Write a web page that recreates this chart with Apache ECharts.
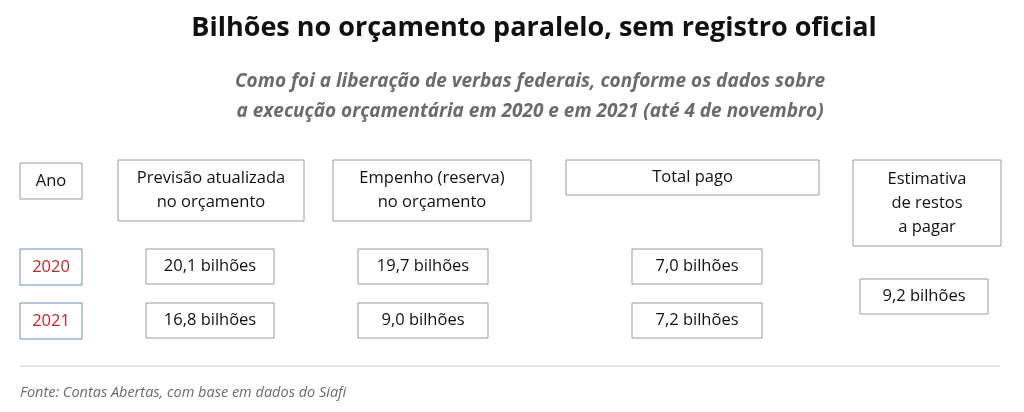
<!DOCTYPE html>
<html><head><meta charset="utf-8">
<script src="https://cdn.jsdelivr.net/npm/echarts@6/dist/echarts.min.js"></script>
<style>html,body{margin:0;background:#fff}#c{width:1024px;height:412px}</style>
</head><body><div id="c"></div>
<script>
var titleText = 'Bilhões no orçamento paralelo, sem registro oficial';
var subtitleLines = ['Como foi a liberação de verbas federais, conforme os dados sobre', 'a execução orçamentária em 2020 e em 2021 (até 4 de novembro)'];
var years = ['2020', '2021'];
var headers = ['Ano', 'Previsão atualizada\nno orçamento', 'Empenho (reserva)\nno orçamento', 'Total pago', 'Estimativa\nde restos\na pagar'];
var previsao = [20.1, 16.8];
var empenho = [19.7, 9.0];
var pago = [7.0, 7.2];
var restos = 9.2;
var source = 'Fonte: Contas Abertas, com base em dados do Siafi';

function fmt(v) { return v.toFixed(1).replace('.', ',') + ' bilhões'; }

var font = '"Open Sans", sans-serif';
function box(x, y, w, h, text, opt) {
  opt = opt || {};
  return {
    type: 'group', x: x, y: y,
    children: [
      { type: 'rect', shape: { x: 0, y: 0, width: w, height: h },
        style: { fill: '#fff', stroke: opt.stroke || '#9a9a9a', lineWidth: 1 } },
      { type: 'text', x: w / 2, y: h / 2,
        style: { text: text, fill: opt.color || '#111', font: '16.5px ' + font,
                 align: 'center', verticalAlign: 'middle', lineHeight: 24 } }
    ]
  };
}

// header boxes [x, y, w, h]
var headerPos = [[20, 163, 62, 36], [118, 160, 186, 61], [333, 160, 198, 61], [566, 160, 253, 35], [853, 160, 148, 86]];
var rowY = [249, 303];
var colX = [[146, 128], [358, 130], [632, 130]];

var g = [];
g.push({ type: 'text', x: 534, y: 28, style: { text: titleText, font: 'bold 27px ' + font, fill: '#111', align: 'center', verticalAlign: 'middle' } });
subtitleLines.forEach(function (l, i) {
  g.push({ type: 'text', x: 530, y: 82 + i * 30, style: { text: l, font: 'italic bold 19px ' + font, fill: '#6b6b6b', align: 'center', verticalAlign: 'middle' } });
});
headers.forEach(function (h, i) {
  var p = headerPos[i];
  g.push(box(p[0], p[1], p[2], p[3], h));
});
years.forEach(function (y, r) {
  g.push(box(20, rowY[r], 62, 36, y, { color: '#c0262c', stroke: '#6f8fbf' }));
  [previsao, empenho, pago].forEach(function (arr, c) {
    g.push(box(colX[c][0], rowY[r], colX[c][1], 35, fmt(arr[r])));
  });
});
g.push(box(860, 279, 128, 35, fmt(restos)));
g.push({ type: 'line', shape: { x1: 20, y1: 366, x2: 1000, y2: 366 }, style: { stroke: '#cfcfcf', lineWidth: 1 } });
g.push({ type: 'text', x: 20, y: 393, style: { text: source, font: 'italic 14.5px ' + font, fill: '#6b6b6b', verticalAlign: 'middle' } });

var chart = echarts.init(document.getElementById('c'));
chart.setOption({ backgroundColor: '#fff', graphic: g });
</script></body></html>
